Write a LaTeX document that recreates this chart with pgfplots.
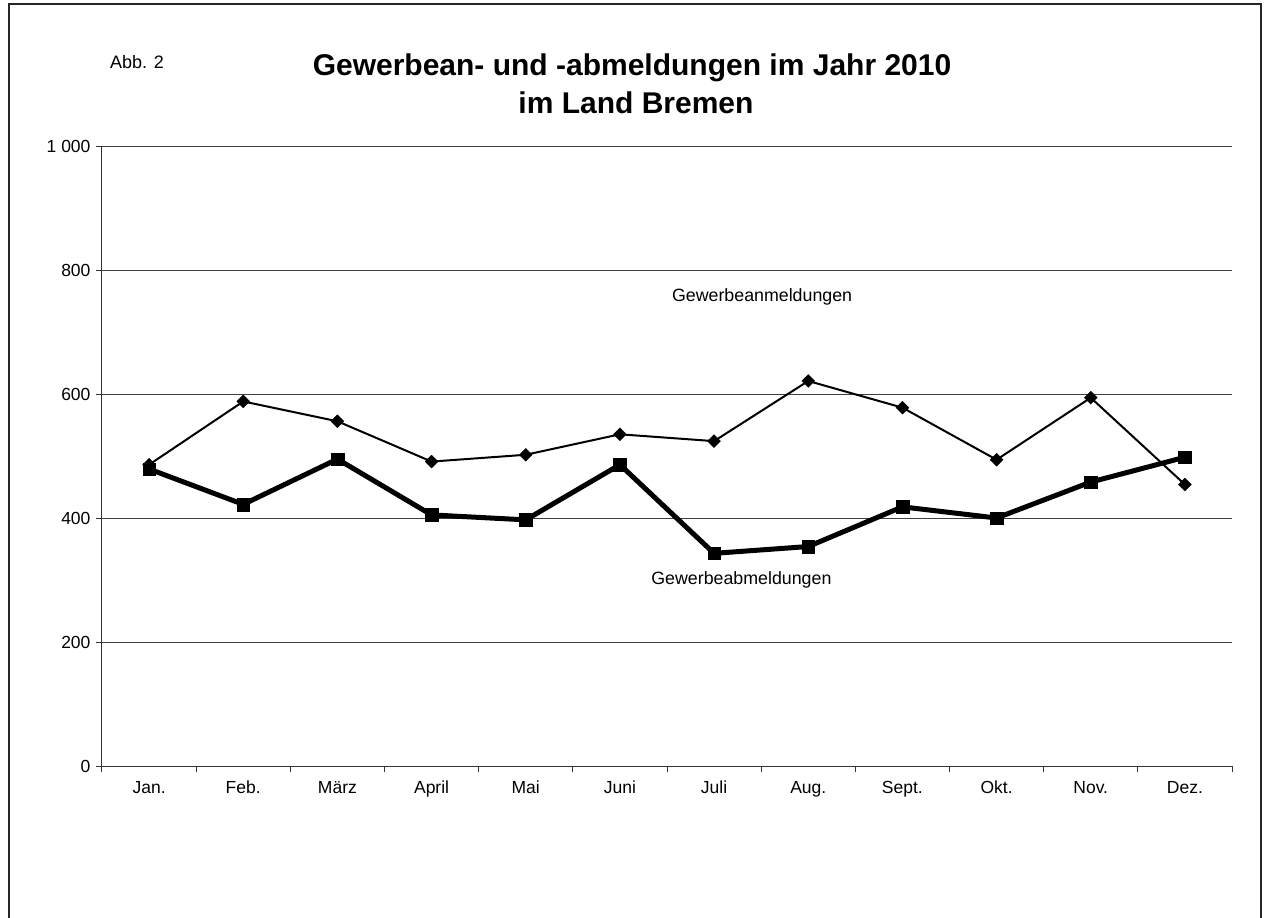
\documentclass[border=0pt]{standalone}
\usepackage{pgfplots}
\pgfplotsset{compat=1.18}
\usepackage{fontspec}
\setmainfont{Liberation Sans}
\begin{document}
\begin{tikzpicture}
\useasboundingbox (0pt,0pt) rectangle (1264pt,-918pt);
\draw[line width=2pt,black!85] (9pt,-940pt) -- (9pt,-4pt) -- (1261pt,-4pt) -- (1261pt,-940pt);
\node[anchor=base west,font=\fontsize{18}{21}\selectfont,inner sep=0pt] at (110pt,-68pt) {Abb. 2};
\node[anchor=base,font=\fontsize{30}{36}\selectfont\bfseries,inner sep=0pt] at (632pt,-75pt) {Gewerbean- und -abmeldungen im Jahr 2010};
\node[anchor=base,font=\fontsize{30}{36}\selectfont\bfseries,inner sep=0pt] at (636pt,-113pt) {im Land Bremen};
\begin{axis}[
  at={(102pt,-766pt)}, anchor=south west,
  scale only axis, width=1130pt, height=620pt,
  xmin=-0.5, xmax=11.5, ymin=0, ymax=1000,
  axis x line*=bottom, axis y line*=left,
  axis line style={-, line width=1pt, black!80},
  ymajorgrids, grid style={line width=1pt, black!75},
  ytick={0,200,400,600,800,1000},
  yticklabels={0,200,400,600,800,1~000},
  xtick={0,...,11},
  xticklabels={Jan.,Feb.,März,April,Mai,Juni,Juli,Aug.,Sept.,Okt.,Nov.,Dez.},
  minor xtick={-0.5,0.5,...,11.5},
  every major x tick/.append style={draw=none},
  tick align=outside, major tick length=6pt, minor tick length=6pt,
  tick style={line width=1pt, black!80},
  ticklabel style={font=\fontsize{17.5}{20}\selectfont},
  xticklabel style={anchor=north, text height=13pt, text depth=4pt, yshift=-5pt},
  yticklabel style={xshift=-2pt},
  clip=false,
]
\addplot[black, line width=2pt, mark=square*, mark size=4.6pt, mark options={solid,rotate=45,line width=0.3pt}] coordinates {
(0,486) (1,588) (2,556) (3,491) (4,502) (5,535) (6,524) (7,621) (8,578) (9,494) (10,594) (11,454)};
\addplot[black, line width=5pt, mark=square*, mark size=6.3pt, mark options={solid,line width=0.3pt}] coordinates {
(0,479) (1,422) (2,495) (3,405) (4,397) (5,486) (6,343) (7,354) (8,418) (9,400) (10,458) (11,498)};
\node[font=\fontsize{17.8}{20}\selectfont] at (axis cs:6.51,756) {Gewerbeanmeldungen};
\node[font=\fontsize{17.8}{20}\selectfont] at (axis cs:6.29,300) {Gewerbeabmeldungen};
\end{axis}
\end{tikzpicture}
\end{document}
